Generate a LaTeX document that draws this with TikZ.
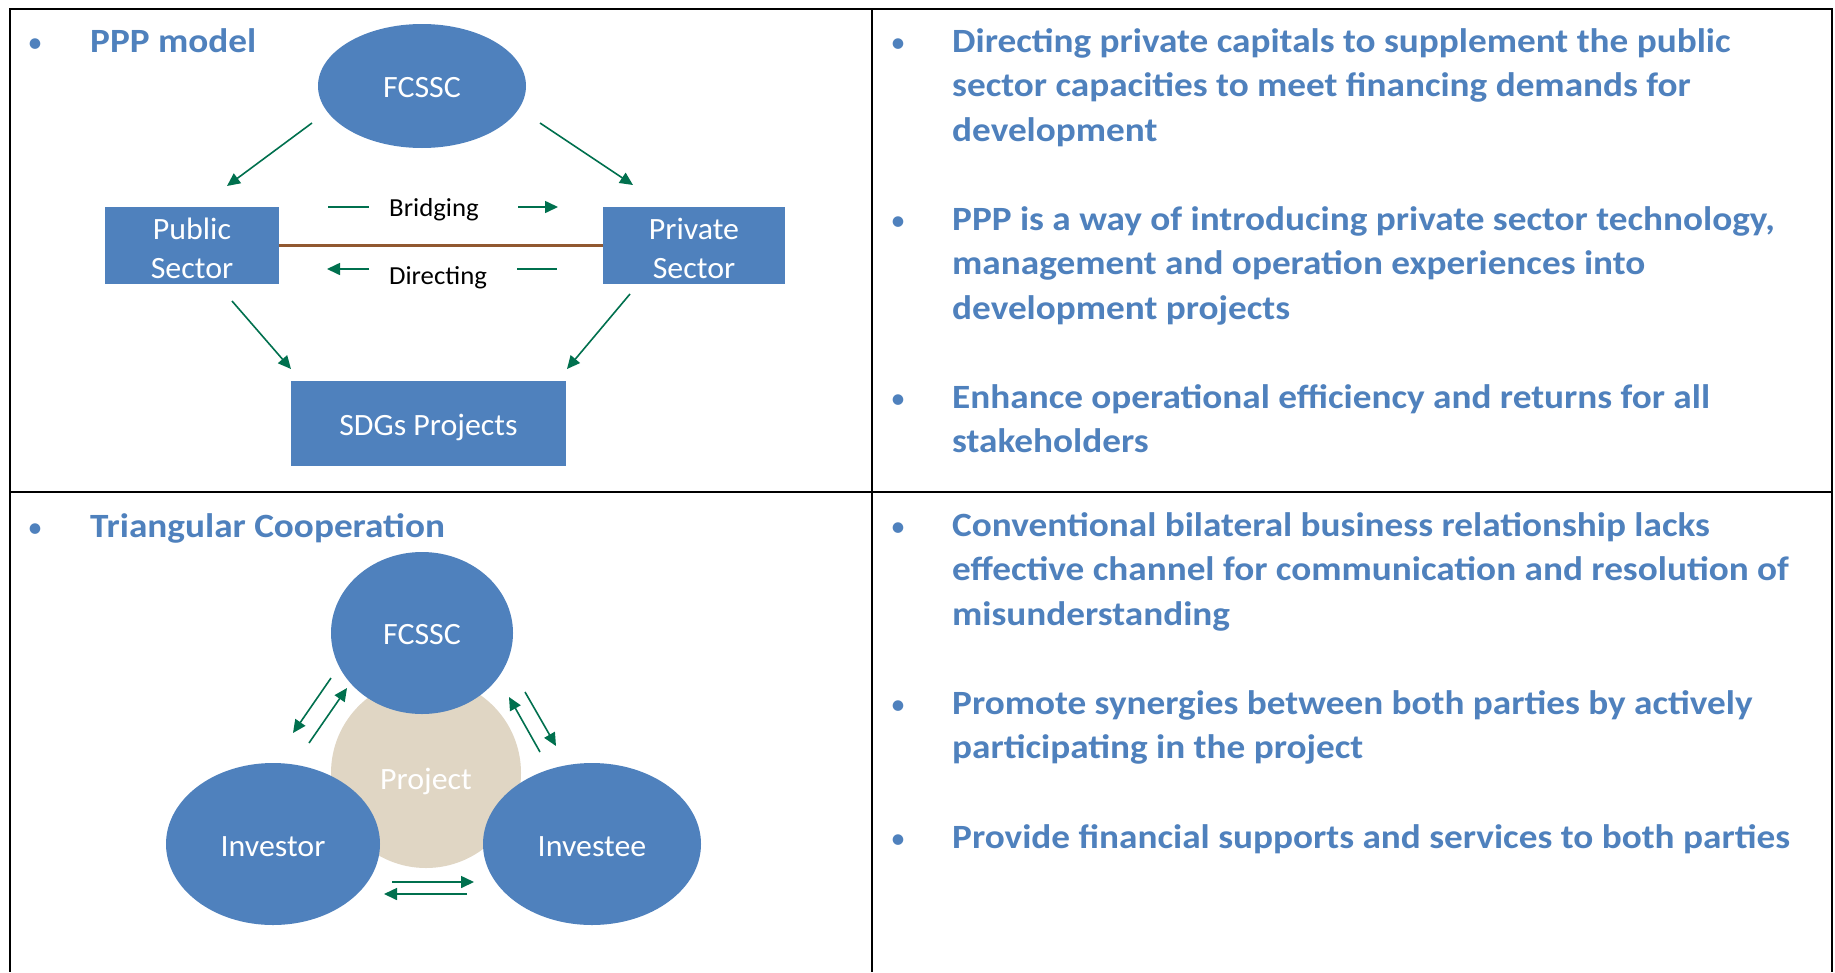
\documentclass[tikz,border=0pt]{standalone}
\usepackage{fontspec}
\setmainfont{Carlito}
\newfontfamily\blufont{Carlito}[FakeStretch=1.095]
\newfontfamily\nodefont{Carlito}[FakeStretch=1.03]
\usetikzlibrary{shapes.geometric,arrows.meta}
\definecolor{blu}{RGB}{79,129,189}
\definecolor{grn}{RGB}{0,112,78}
\definecolor{brn}{RGB}{145,88,48}
\definecolor{beige}{RGB}{224,214,196}
\tikzset{
  ntext/.style={text=white, font=\nodefont\fontsize{31}{39}\selectfont, inner sep=0pt, align=center},
  boxnode/.style={fill=blu, inner sep=0pt},
  ellnode/.style={ellipse, fill=blu, inner sep=0pt},
  arr/.style={draw=grn, line width=1.6pt, -{Triangle[length=13pt,width=12pt]}},
  dashseg/.style={draw=grn, line width=1.6pt},
  lbl/.style={font=\nodefont\fontsize{26}{30}\selectfont, text=black, inner sep=0pt, anchor=base},
  txt/.style={text=blu, font=\blufont\bfseries\fontsize{34}{44.5}\selectfont, anchor=base west, inner sep=0pt},
  bul/.style={text=blu, font=\fontsize{30}{40}\selectfont, anchor=base, inner sep=0pt},
  grid/.style={line width=2pt, draw=black}
}
\begin{document}
\begin{tikzpicture}[x=1pt,y=-1pt]
\useasboundingbox (0,0) rectangle (1835,972);
\fill[white] (0,0) rectangle (1835,972);
% table
\draw[grid] (10,9) -- (1832,9);
\draw[grid] (10,492) -- (1832,492);
\draw[grid] (10,8) -- (10,972);
\draw[grid] (872,8) -- (872,972);
\draw[grid] (1832,8) -- (1832,972);

% ---------- PPP model ----------
\node[bul] (b1) at (35,52) {•};
\node[txt] (h1) at (90,52) {PPP model};
\node[ellnode, minimum width=208pt, minimum height=124pt,
      label={[ntext, yshift=-1.5pt]center:FCSSC}] (fc1) at (422,86) {};
\node[boxnode, minimum width=174pt, minimum height=77pt,
      label={[ntext, yshift=-2.5pt]center:Public\\Sector}] (pub) at (192,245.5) {};
\node[boxnode, minimum width=182pt, minimum height=77pt,
      label={[ntext, yshift=-2.5pt]center:Private\\Sector}] (priv) at (694,245.5) {};
\node[boxnode, minimum width=275pt, minimum height=85pt,
      label={[ntext, yshift=-4pt]center:SDGs Projects}] (sdg) at (428.5,423.5) {};
\draw[brn, line width=2.2pt] (pub) -- (priv);
\node[lbl] (brd) at (434,216) {Bridging};
\node[lbl] (dir) at (438,284) {Directing};

\coordinate (a1s) at (312,123); \coordinate (a1e) at (227,186);
\coordinate (a2s) at (540,123); \coordinate (a2e) at (633,185);
\coordinate (a3s) at (232,301); \coordinate (a3e) at (291,369);
\coordinate (a4s) at (630,294); \coordinate (a4e) at (567,369);
\draw[arr] (a1s) -- (a1e);
\draw[arr] (a2s) -- (a2e);
\draw[arr] (a3s) -- (a3e);
\draw[arr] (a4s) -- (a4e);
\coordinate (d1s) at (328,207); \coordinate (d1e) at (369,207);
\coordinate (d2s) at (518,207); \coordinate (d2e) at (558,207);
\coordinate (d3s) at (369,269); \coordinate (d3e) at (327,269);
\coordinate (d4s) at (517,269); \coordinate (d4e) at (557,269);
\draw[dashseg] (d1s) -- (d1e);
\draw[arr] (d2s) -- (d2e);
\draw[arr] (d3s) -- (d3e);
\draw[dashseg] (d4s) -- (d4e);

% ---------- Triangular cooperation ----------
\node[bul] (b2) at (35,537) {•};
\node[txt] (h2) at (90,537) {Triangular Cooperation};
\node[ellipse, fill=beige, inner sep=0pt,
      minimum width=190pt, minimum height=190pt] (proj) at (426,773) {};
\node[ellnode, minimum width=182pt, minimum height=162pt,
      label={[ntext, yshift=-2pt]center:FCSSC}] (fc2) at (422,633) {};
\node[ellnode, minimum width=214pt, minimum height=162pt,
      label={[ntext, yshift=-3pt]center:Investor}] (inv) at (273,844) {};
\node[ellnode, minimum width=218pt, minimum height=162pt,
      label={[ntext, yshift=-3pt]center:Investee}] (ive) at (592,844) {};
\node[ntext, anchor=base] (projt) at (426,789) {Project};

\coordinate (t1s) at (331,678); \coordinate (t1e) at (293,733);
\coordinate (t2s) at (309,743); \coordinate (t2e) at (347,688);
\coordinate (t3s) at (540,752); \coordinate (t3e) at (509,697);
\coordinate (t4s) at (525,692); \coordinate (t4e) at (556,746);
\coordinate (t5s) at (392,882); \coordinate (t5e) at (474,882);
\coordinate (t6s) at (467,894); \coordinate (t6e) at (384,894);
\draw[arr] (t1s) -- (t1e);
\draw[arr] (t2s) -- (t2e);
\draw[arr] (t3s) -- (t3e);
\draw[arr] (t4s) -- (t4e);
\draw[arr] (t5s) -- (t5e);
\draw[arr] (t6s) -- (t6e);

% ---------- right column, top ----------
\node[bul] (rb1) at (898,52) {•};
\node[txt] (r1) at (952,52) {Directing private capitals to supplement the public};
\node[txt] (r2) at (952,96.5) {sector capacities to meet financing demands for};
\node[txt] (r3) at (952,141) {development};
\node[bul] (rb2) at (898,230) {•};
\node[txt] (r4) at (952,230) {PPP is a way of introducing private sector technology,};
\node[txt] (r5) at (952,274.5) {management and operation experiences into};
\node[txt] (r6) at (952,319) {development projects};
\node[bul] (rb3) at (898,408) {•};
\node[txt] (r7) at (952,408) {Enhance operational efficiency and returns for all};
\node[txt] (r8) at (952,452.5) {stakeholders};

% ---------- right column, bottom ----------
\node[bul] (rb4) at (898,536) {•};
\node[txt] (s1) at (952,536) {Conventional bilateral business relationship lacks};
\node[txt] (s2) at (952,580.5) {effective channel for communication and resolution of};
\node[txt] (s3) at (952,625) {misunderstanding};
\node[bul] (rb5) at (898,714) {•};
\node[txt] (s4) at (952,714) {Promote synergies between both parties by actively};
\node[txt] (s5) at (952,758.5) {participating in the project};
\node[bul] (rb6) at (898,848.5) {•};
\node[txt] (s6) at (952,848.5) {Provide financial supports and services to both parties};
\end{tikzpicture}
\end{document}
